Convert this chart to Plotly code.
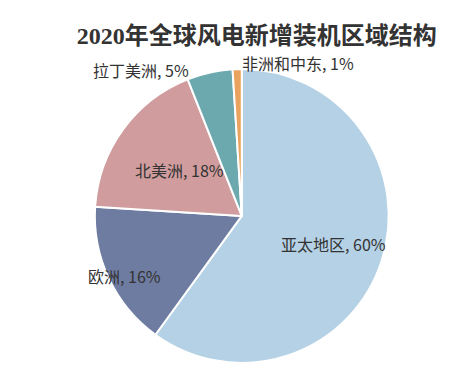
import plotly.graph_objects as go

regions = ["亚太地区", "欧洲", "北美洲", "拉丁美洲", "非洲和中东"]
shares = [60, 16, 18, 5, 1]
colors = ["#B5D1E5", "#6F7CA2", "#D09C9E", "#6BA9AF", "#E9A35F"]

# label anchor positions (paper coords), one per region
label_x = [0.724, 0.258, 0.382, 0.296, 0.644]
label_y = [0.357, 0.270, 0.559, 0.831, 0.850]

fig = go.Figure(go.Pie(
    labels=regions,
    values=shares,
    sort=False,
    direction="clockwise",
    rotation=0,
    marker=dict(colors=colors, line=dict(color="white", width=2)),
    textinfo="none",
    hoverinfo="label+percent",
    showlegend=False,
    domain=dict(x=[0.193, 0.846], y=[0.033, 0.834]),
))

lab_font = dict(family="Noto Sans CJK SC", size=16, color="#333333")
fig.update_layout(
    width=450, height=367,
    margin=dict(l=0, r=0, t=0, b=0),
    paper_bgcolor="white",
    plot_bgcolor="white",
    title=dict(
        text="<b>2020年全球风电新增装机区域结构</b>",
        x=0.553, xanchor="center", y=0.926, yanchor="middle",
        font=dict(family="Liberation Serif, Noto Sans CJK SC", size=24, color="#333333"),
    ),
    annotations=[
        dict(text=f"{r}, {s}%", x=lx, y=ly, xref="paper", yref="paper",
             xanchor="center", yanchor="middle", showarrow=False, font=lab_font)
        for r, s, lx, ly in zip(regions, shares, label_x, label_y)
    ],
)

fig.write_html("out.html")
